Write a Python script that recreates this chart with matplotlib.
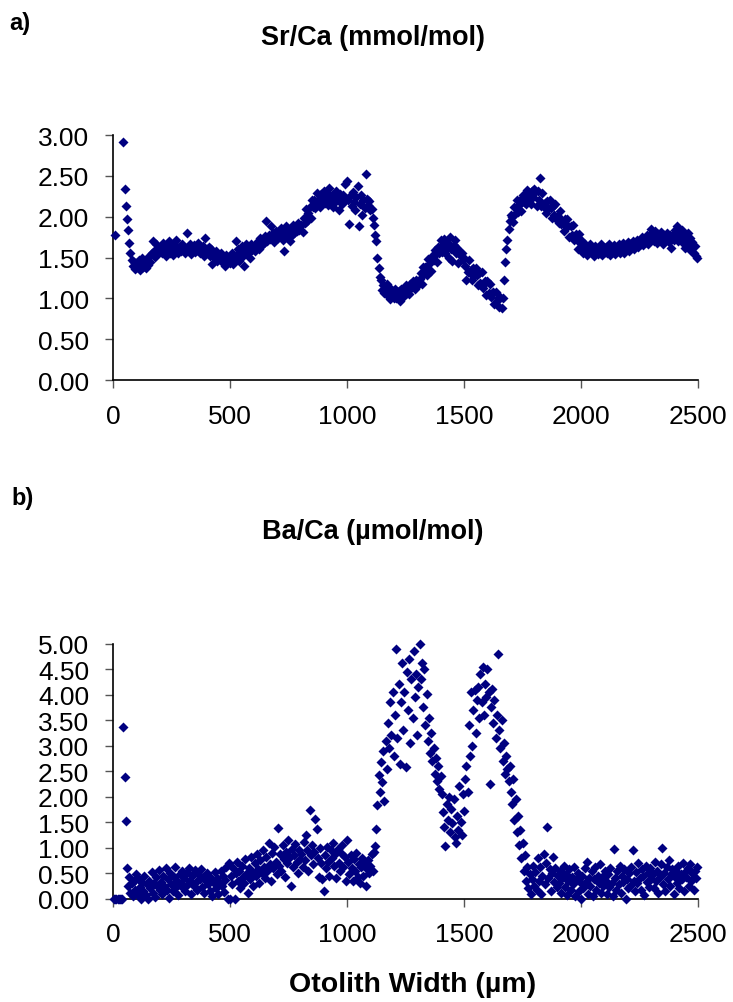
import numpy as np
import matplotlib
matplotlib.use("Agg")
import matplotlib.pyplot as plt
from matplotlib.ticker import FormatStrFormatter, MultipleLocator

# sample positions along the transect (um), one reading every 5 um
step_um = 5
dist = np.arange(1, 501) * step_um
nan = np.nan

# Sr/Ca (mmol/mol), 20 readings per 100 um row
sr_ca = [
    nan, 1.77, nan, nan, nan, nan, nan, nan, 2.91, 2.34, 2.13, 1.97, 1.84, 1.68, 1.55, 1.47, 1.40, 1.44, 1.36, 1.43,
    1.38, 1.47, 1.35, 1.42, 1.50, 1.39, 1.44, 1.37, 1.48, 1.41, 1.52, 1.45, 1.55, 1.70, 1.58, 1.51, 1.66, 1.54, 1.62, 1.57,
    1.63, 1.55, 1.68, 1.58, 1.52, 1.65, 1.60, 1.70, 1.56, 1.62, 1.53, 1.66, 1.59, 1.72, 1.61, 1.55, 1.64, 1.58, 1.67, 1.60,
    1.62, 1.55, 1.80, 1.63, 1.58, 1.67, 1.54, 1.61, 1.65, 1.57, 1.63, 1.59, 1.68, 1.55, 1.62, 1.58, 1.64, 1.52, 1.74, 1.60,
    1.57, 1.63, 1.52, 1.60, 1.42, 1.55, 1.50, 1.58, 1.46, 1.53, 1.49, 1.56, 1.44, 1.51, 1.47, 1.40, 1.53, 1.45, 1.50, 1.43,
    1.48, 1.55, 1.42, 1.52, 1.70, 1.50, 1.60, 1.46, 1.57, 1.64, 1.52, 1.40, 1.58, 1.66, 1.55, 1.62, 1.50, 1.67, 1.59, 1.63,
    1.58, 1.66, 1.62, 1.70, 1.60, 1.74, 1.65, 1.72, 1.68, 1.76, 1.95, 1.70, 1.78, 1.73, 1.88, 1.75, 1.80, 1.69, 1.82, 1.77,
    1.74, 1.83, 1.76, 1.86, 1.72, 1.58, 1.80, 1.88, 1.75, 1.82, 1.70, 1.85, 1.78, 1.90, 1.80, 1.87, 1.83, 1.92, 1.84, 1.89,
    1.90, 1.81, 1.99, 1.92, 2.09, 1.95, 2.04, 2.12, 1.99, 2.20, 2.12, 2.20, 2.11, 2.29, 2.15, 2.22, 2.12, 2.28, 2.21, 2.31,
    2.17, 2.30, 2.24, 2.14, 2.35, 2.21, 2.27, 2.12, 2.25, 2.18, 2.31, 2.23, 2.08, 2.28, 2.20, 2.15, 2.26, 2.40, 2.22, 2.44,
    2.20, 1.91, 2.26, 2.13, 2.30, 2.18, 2.08, 2.24, 2.37, 1.89, 2.15, 2.27, 2.02, 2.20, 2.11, 2.52, 2.22, 2.14, 2.19, 2.08,
    2.10, 1.98, 1.90, 1.77, 1.70, 1.50, 1.37, 1.26, 1.22, 1.10, 1.16, 1.06, 1.13, 1.18, 1.03, 1.09, 0.99, 1.12, 1.05, 1.01,
    1.12, 1.00, 1.04, 1.09, 0.97, 1.12, 1.05, 1.10, 1.03, 1.16, 1.06, 1.12, 1.05, 1.17, 1.13, 1.21, 1.17, 1.11, 1.23, 1.17,
    1.16, 1.24, 1.31, 1.17, 1.38, 1.30, 1.38, 1.29, 1.48, 1.35, 1.43, 1.34, 1.52, 1.47, 1.59, 1.54, 1.45, 1.63, 1.55, 1.71,
    1.57, 1.66, 1.73, 1.55, 1.62, 1.68, 1.50, 1.75, 1.60, 1.46, 1.65, 1.71, 1.56, 1.62, 1.43, 1.58, 1.52, 1.55, 1.47, 1.50,
    1.40, 1.22, 1.32, 1.47, 1.31, 1.35, 1.23, 1.37, 1.29, 1.37, 1.29, 1.16, 1.31, 1.19, 1.32, 1.13, 1.18, 1.21, 1.04, 1.21,
    1.07, 1.18, 1.02, 1.06, 1.08, 0.93, 1.08, 0.97, 1.00, 0.90, 1.02, 0.88, 1.00, 1.22, 1.45, 1.60, 1.72, 1.85, 1.95, 2.02,
    2.00, 1.93, 2.12, 2.05, 2.21, 2.06, 2.14, 2.21, 2.07, 2.27, 2.18, 2.25, 2.15, 2.33, 2.19, 2.25, 2.15, 2.31, 2.24, 2.34,
    2.30, 2.13, 2.31, 2.20, 2.47, 2.13, 2.29, 2.12, 2.17, 2.05, 2.19, 2.11, 2.20, 2.11, 1.99, 2.13, 2.02, 2.15, 1.96, 2.01,
    1.92, 2.07, 1.91, 1.95, 1.83, 1.97, 1.88, 1.97, 1.88, 1.75, 1.89, 1.77, 1.90, 1.71, 1.75, 1.79, 1.61, 1.79, 1.68, 1.72,
    1.62, 1.56, 1.66, 1.58, 1.53, 1.63, 1.57, 1.67, 1.55, 1.61, 1.52, 1.64, 1.58, 1.54, 1.62, 1.56, 1.66, 1.53, 1.60, 1.57,
    1.63, 1.55, 1.59, 1.66, 1.53, 1.61, 1.57, 1.65, 1.54, 1.62, 1.58, 1.67, 1.55, 1.63, 1.59, 1.68, 1.56, 1.64, 1.60, 1.69,
    1.58, 1.66, 1.62, 1.70, 1.60, 1.68, 1.64, 1.72, 1.63, 1.70, 1.66, 1.75, 1.65, 1.73, 1.69, 1.78, 1.67, 1.76, 1.72, 1.85,
    1.78, 1.70, 1.83, 1.74, 1.68, 1.79, 1.72, 1.81, 1.75, 1.66, 1.77, 1.71, 1.80, 1.74, 1.69, 1.78, 1.62, 1.76, 1.72, 1.84,
    1.75, 1.88, 1.70, 1.79, 1.73, 1.84, 1.68, 1.77, 1.62, 1.72, 1.80, 1.66, 1.74, 1.58, 1.69, 1.55, 1.64, 1.52, 1.50, nan,
]

# Ba/Ca (umol/mol), same sample positions
ba_ca = [
    0.00, 0.00, 0.00, 0.00, 0.00, 0.00, 0.00, 0.00, 3.37, 2.39, 1.52, 0.60, 0.25, 0.42, 0.12, 0.30, 0.05, 0.35, 0.18, 0.48,
    0.10, 0.38, 0.22, 0.00, 0.31, 0.15, 0.45, 0.08, 0.28, 0.00, 0.35, 0.20, 0.52, 0.12, 0.30, 0.04, 0.42, 0.25, 0.56, 0.18,
    0.33, 0.10, 0.45, 0.25, 0.60, 0.18, 0.38, 0.02, 0.50, 0.28, 0.15, 0.42, 0.62, 0.22, 0.35, 0.08, 0.48, 0.30, 0.55, 0.20,
    0.40, 0.15, 0.52, 0.28, 0.60, 0.35, 0.10, 0.45, 0.25, 0.56, 0.32, 0.18, 0.48, 0.38, 0.58, 0.22, 0.42, 0.12, 0.36, 0.50,
    0.28, 0.45, 0.15, 0.38, 0.05, 0.30, 0.52, 0.20, 0.40, 0.10, 0.33, 0.55, 0.25, 0.45, 0.14, 0.36, 0.62, 0.00, 0.70, 0.00,
    0.45, 0.28, 0.60, 0.00, 0.50, 0.72, 0.35, 0.55, 0.20, 0.65, 0.42, 0.30, 0.78, 0.48, 0.12, 0.60, 0.38, 0.82, 0.52, 0.25,
    0.70, 0.45, 0.88, 0.58, 0.30, 0.75, 0.50, 0.95, 0.62, 0.40, 0.82, 0.55, 1.10, 0.68, 0.35, 0.90, 0.60, 1.02, 0.72, 0.48,
    1.38, 0.65, 0.88, 0.55, 1.05, 0.78, 0.42, 0.92, 0.70, 1.15, 0.82, 0.25, 0.98, 0.62, 0.85, 1.08, 0.72, 0.50, 0.95, 0.78,
    0.88, 0.62, 1.12, 0.75, 1.25, 0.95, 0.55, 1.74, 0.85, 1.05, 0.68, 0.92, 1.57, 1.36, 0.80, 0.42, 1.00, 0.70, 0.38, 0.16,
    0.85, 0.60, 1.02, 0.72, 0.45, 0.95, 0.80, 1.10, 0.65, 0.88, 0.40, 0.98, 0.70, 0.55, 0.90, 1.05, 0.62, 0.82, 0.35, 1.15,
    0.72, 0.48, 0.85, 0.60, 0.35, 0.78, 0.55, 0.90, 0.42, 0.68, 0.30, 0.62, 0.80, 0.45, 0.70, 0.25, 0.58, 0.75, 0.50, 0.65,
    0.88, 0.55, 0.92, 1.04, 1.36, 1.83, 2.42, 2.10, 2.68, 2.28, 2.90, 1.92, 3.10, 2.55, 3.45, 2.95, 3.85, 3.20, 4.05, 2.80,
    3.60, 4.90, 3.15, 4.20, 2.65, 3.85, 4.62, 3.30, 4.05, 2.58, 4.45, 3.70, 4.70, 3.05, 4.30, 3.55, 4.85, 3.95, 4.40, 3.20,
    4.15, 4.99, 4.30, 4.62, 3.75, 4.50, 3.40, 4.02, 3.10, 3.55, 2.85, 3.25, 2.70, 2.95, 2.45, 2.75, 2.30, 2.60, 2.15, 2.40,
    2.05, 1.70, 1.40, 1.04, 1.85, 1.55, 2.00, 1.30, 1.75, 1.48, 1.95, 1.20, 1.10, 1.62, 1.35, 2.20, 1.50, 1.25, 2.05, 1.72,
    2.35, 2.61, 2.10, 3.40, 2.80, 4.05, 3.00, 3.70, 4.10, 3.25, 3.90, 4.15, 3.55, 4.40, 3.85, 4.55, 3.60, 4.20, 3.95, 4.50,
    4.05, 2.25, 3.75, 4.12, 3.45, 3.90, 3.15, 3.60, 4.80, 3.30, 2.95, 3.50, 2.70, 3.05, 2.45, 2.80, 2.55, 2.30, 2.60, 2.10,
    1.85, 2.35, 1.55, 1.95, 1.30, 1.62, 1.05, 1.35, 0.80, 1.10, 0.55, 0.85, 0.35, 0.62, 0.20, 0.48, 0.10, 0.38, 0.65, 0.25,
    0.52, 0.18, 0.80, 0.35, 0.62, 0.10, 0.45, 0.88, 0.28, 0.70, 1.41, 0.40, 0.58, 0.15, 0.50, 0.82, 0.32, 0.60, 0.22, 0.45,
    0.30, 0.55, 0.12, 0.40, 0.65, 0.22, 0.48, 0.08, 0.35, 0.58, 0.18, 0.42, 0.28, 0.62, 0.05, 0.38, 0.50, 0.15, 0.32, 0.00,
    0.45, 0.20, 0.60, 0.33, 0.72, 0.10, 0.40, 0.25, 0.55, 0.05, 0.38, 0.62, 0.18, 0.45, 0.30, 0.68, 0.12, 0.42, 0.25, 0.55,
    0.35, 0.10, 0.48, 0.22, 0.60, 0.30, 0.05, 0.97, 0.40, 0.18, 0.55, 0.28, 0.65, 0.12, 0.45, 0.32, 0.58, 0.00, 0.38, 0.20,
    0.50, 0.25, 0.62, 0.95, 0.35, 0.15, 0.52, 0.30, 0.70, 0.40, 0.18, 0.58, 0.45, 0.08, 0.65, 0.32, 0.50, 0.22, 0.60, 0.38,
    0.48, 0.20, 0.72, 0.35, 0.55, 0.12, 0.42, 0.68, 1.00, 0.28, 0.50, 0.15, 0.62, 0.38, 0.75, 0.25, 0.48, 0.58, 0.10, 0.42,
    0.55, 0.30, 0.65, 0.20, 0.48, 0.38, 0.70, 0.15, 0.52, 0.42, 0.60, 0.25, 0.68, 0.35, 0.50, 0.18, 0.55, 0.40, 0.62, nan,
]

x_ticks = [0, 500, 1000, 1500, 2000, 2500]

plt.rcParams['font.family'] = ['Liberation Sans', 'DejaVu Sans']

fig = plt.figure(figsize=(7.33, 10.03), dpi=100)
ax1 = fig.add_axes([0.1540, 0.6201, 0.7985, 0.2443])
ax2 = fig.add_axes([0.1540, 0.1030, 0.7985, 0.2543])

navy = '#000080'

def style_axis(ax, ymax):
    ax.set_xlim(0, 2500)
    ax.set_ylim(0, ymax)
    ax.set_xticks(x_ticks)
    ax.yaxis.set_major_locator(MultipleLocator(0.5))
    ax.yaxis.set_major_formatter(FormatStrFormatter('%.2f'))
    for s in ['top', 'right']:
        ax.spines[s].set_visible(False)
    for s in ['left', 'bottom']:
        ax.spines[s].set_linewidth(1.2)
        ax.spines[s].set_color('black')
    ax.tick_params(axis='both', direction='out', length=6, width=1.0,
                   color='#555555', labelsize=19)
    ax.tick_params(axis='y', pad=11)
    ax.tick_params(axis='x', pad=11)

ax1.scatter(dist, sr_ca, marker='D', s=26, color=navy, linewidths=0, clip_on=False, zorder=3)
style_axis(ax1, 3.0)

ax2.scatter(dist, ba_ca, marker='D', s=26, color=navy, linewidths=0, clip_on=False, zorder=3)
style_axis(ax2, 5.0)

fig.text(0.509, 0.962, 'Sr/Ca (mmol/mol)', ha='center', va='center', fontsize=19.5, fontweight='bold')
fig.text(0.509, 0.470, 'Ba/Ca (\u00b5mol/mol)', ha='center', va='center', fontsize=19.5, fontweight='bold')
fig.text(0.013, 0.977, 'a)', ha='left', va='center', fontsize=17, fontweight='bold')
fig.text(0.016, 0.503, 'b)', ha='left', va='center', fontsize=17, fontweight='bold')
fig.text(0.563, 0.018, 'Otolith Width (\u00b5m)', ha='center', va='center', fontsize=20.5, fontweight='bold')

fig.savefig('out.png', dpi=100)
